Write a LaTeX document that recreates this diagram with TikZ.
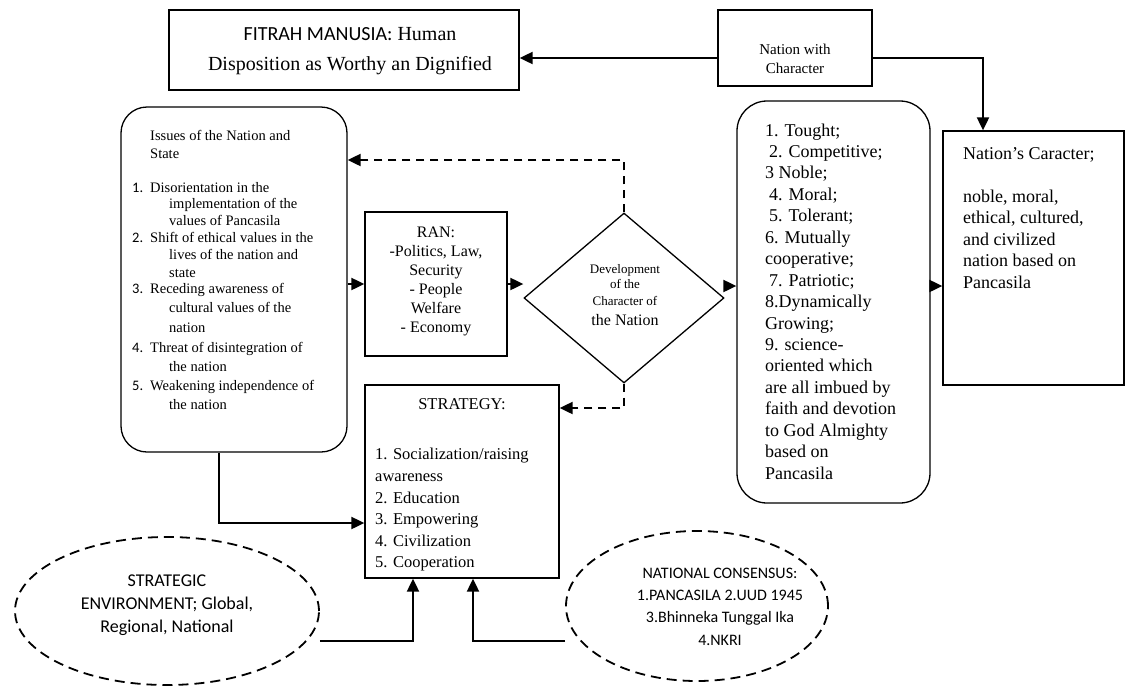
\documentclass[tikz,border=0pt]{standalone}
\usepackage{fontspec}
\setmainfont{Liberation Serif}
\newfontfamily\calfont{Carlito}
\usetikzlibrary{arrows.meta,shapes.geometric}
\newcommand\fsz[1]{\fontsize{#1}{#1}\selectfont}
\tikzset{
  box/.style={draw, line width=1.3pt, inner sep=0pt},
  rbox/.style={box, rounded corners=26pt},
  conn/.style={line width=2pt, -{Triangle[length=13pt,width=12pt]}},
  dconn/.style={conn, dash pattern=on 8pt off 6pt},
  ell/.style={draw, ellipse, line width=1.8pt, dash pattern=on 10pt off 6pt, inner sep=0pt},
  txt/.style={inner sep=0pt, anchor=base west},
  ctxt/.style={inner sep=0pt, anchor=base},
}
\begin{document}
\begin{tikzpicture}[x=1pt,y=-1pt]
\useasboundingbox (0,0) rectangle (1125,686);

% ---------- boxes ----------
\node[box, minimum width=350pt, minimum height=80pt] (FIT) at (344,50) {};
\node[box, minimum width=154pt, minimum height=76pt] (NWC) at (795,48) {};
\node[rbox, minimum width=226pt, minimum height=345pt] (ISS) at (234,279.5) {};
\node[box, minimum width=142pt, minimum height=144pt] (RAN) at (436,284) {};
\node[draw, diamond, line width=1.3pt, inner sep=0pt, minimum width=200pt, minimum height=170pt] (D) at (624,298) {};
\node[rbox, rounded corners=30pt, minimum width=193pt, minimum height=402pt] (MID) at (833.5,302) {};
\node[box, minimum width=181pt, minimum height=254pt] (NC) at (1033.5,258) {};
\node[box, minimum width=194pt, minimum height=193pt] (STR) at (462,481.5) {};
\node[ell, minimum width=304pt, minimum height=148pt] (ENV) at (167,611) {};
\node[ell, minimum width=262pt, minimum height=150pt] (CON) at (697,606) {};

% ---------- texts ----------
\node[ctxt, font=\fsz{20}] (fit1) at (350,40) {{\calfont FITRAH MANUSIA:} Human};
\node[ctxt, font=\fsz{20}] (fit2) at (350,70) {Disposition as Worthy an Dignified};

\node[ctxt, font=\fsz{15}] (nwc1) at (795,54) {Nation with};
\node[ctxt, font=\fsz{15}] (nwc2) at (795,73) {Character};

\begin{scope}[every node/.style={txt, font=\fsz{14.5}}]
\node (is1) at (150,140) {Issues of the Nation and};
\node (is2) at (150,158) {State};
\node (in1) at (132,192) {{\calfont 1.}};
\node (is3) at (150,192) {Disorientation in the};
\node (is4) at (169,208) {implementation of the};
\node (is5) at (169,225) {values of Pancasila};
\node (in2) at (132,242) {{\calfont 2.}};
\node (is6) at (150,242) {Shift of ethical values in the};
\node (is7) at (169,259) {lives of the nation and};
\node (is8) at (169,277) {state};
\node (in3) at (132,293) {{\calfont 3.}};
\node (is9) at (150,293) {Receding awareness of};
\node (is10) at (169,312) {cultural values of the};
\node (is11) at (169,332) {nation};
\node (in4) at (132,352) {{\calfont 4.}};
\node (is12) at (150,352) {Threat of disintegration of};
\node (is13) at (169,371) {the nation};
\node (in5) at (132,390) {{\calfont 5.}};
\node (is14) at (150,390) {Weakening independence of};
\node (is15) at (169,409) {the nation};
\end{scope}

\begin{scope}[every node/.style={ctxt, font=\fsz{16}}]
\node (ran1) at (436,237.5) {RAN:};
\node (ran2) at (436,256.5) {-Politics, Law,};
\node (ran3) at (436,275.5) {Security};
\node (ran4) at (436,294.5) {- People};
\node (ran5) at (436,313.5) {Welfare};
\node (ran6) at (436,332.5) {- Economy};
\end{scope}

\node[ctxt, font=\fsz{13}] (d1) at (625,273.5) {Development};
\node[ctxt, font=\fsz{13}] (d2) at (625,288.5) {of the};
\node[ctxt, font=\fsz{13}] (d3) at (625,305.5) {Character of};
\node[ctxt, font=\fsz{16}] (d4) at (625,325.5) {the Nation};

\begin{scope}[every node/.style={txt, font=\fsz{18}}]
\node (m1) at (765,136) {1. Tought;};
\node (m2) at (765,157.4) {\hspace{4pt}2. Competitive;};
\node (m3) at (765,178.9) {3 Noble;};
\node (m4) at (765,200.3) {\hspace{4pt}4. Moral;};
\node (m5) at (765,221.8) {\hspace{4pt}5. Tolerant;};
\node (m6) at (765,243.2) {6. Mutually};
\node (m7) at (765,264.6) {cooperative;};
\node (m8) at (765,286.1) {\hspace{4pt}7. Patriotic;};
\node (m9) at (765,307.5) {8.Dynamically};
\node (m10) at (765,329) {Growing;};
\node (m11) at (765,350.4) {9. science-};
\node (m12) at (765,371.8) {oriented which};
\node (m13) at (765,393.3) {are all imbued by};
\node (m14) at (765,414.7) {faith and devotion};
\node (m15) at (765,436.2) {to God Almighty};
\node (m16) at (765,457.6) {based on};
\node (m17) at (765,479) {Pancasila};
\end{scope}

\begin{scope}[every node/.style={txt, font=\fsz{18}}]
\node (nc1) at (963,159) {Nation’s Caracter;};
\node (nc2) at (963,202) {noble, moral,};
\node (nc3) at (963,223.5) {ethical, cultured,};
\node (nc4) at (963,245) {and civilized};
\node (nc5) at (963,266.5) {nation based on};
\node (nc6) at (963,288) {Pancasila};
\end{scope}

\node[ctxt, font=\fsz{16.5}] (s0) at (462,409) {STRATEGY:};
\begin{scope}[every node/.style={txt, font=\fsz{16.5}}]
\node (s1) at (375,459) {1. Socialization/raising};
\node (s2) at (375,481) {awareness};
\node (s3) at (375,503) {2. Education};
\node (s4) at (375,524) {3. Empowering};
\node (s5) at (375,546) {4. Civilization};
\node (s6) at (375,567) {5. Cooperation};
\end{scope}

\begin{scope}[every node/.style={ctxt, font=\calfont\fsz{18}}]
\node (e1) at (167,586) {STRATEGIC};
\node (e2) at (167,609) {ENVIRONMENT; Global,};
\node (e3) at (167,632) {Regional, National};
\end{scope}

\begin{scope}[every node/.style={ctxt, font=\calfont\fsz{16}}]
\node (c1) at (720,578.5) {NATIONAL CONSENSUS:};
\node (c2) at (720,600.5) {1.PANCASILA 2.UUD 1945};
\node (c3) at (720,622.5) {3.Bhinneka Tunggal Ika};
\node (c4) at (720,645.5) {4.NKRI};
\end{scope}

% ---------- connectors ----------
\draw[conn] ([yshift=-10pt]NWC.west) -- ([yshift=-10pt]NWC.west -| FIT.east);
\draw[conn] ([yshift=-10pt]NWC.east) -| ([xshift=-50.5pt]NC.north);
\draw[dconn] (D.north) |- ([yshift=119.5pt]ISS.east);
\draw[conn] (ISS.east |- RAN.west) -- (RAN.west);
\draw[conn] (RAN.east) -- (RAN.east -| D.west);
\draw[conn] ([yshift=12pt]D.east) -- ([yshift=12pt]D.east -| MID.west);
\draw[conn] ([yshift=16pt]MID.east) -- ([yshift=16pt]MID.east -| NC.west);
\draw[dconn] (D.south) |- ([yshift=73.5pt]STR.east);
\draw[conn] ([xshift=-15pt]ISS.south) |- ([yshift=-41.5pt]STR.west);
\draw[conn] ([yshift=-30pt]ENV.east) -| ([xshift=-49pt]STR.south);
\draw[conn] ([yshift=-35pt]CON.west) -| ([xshift=11pt]STR.south);
\end{tikzpicture}
\end{document}
